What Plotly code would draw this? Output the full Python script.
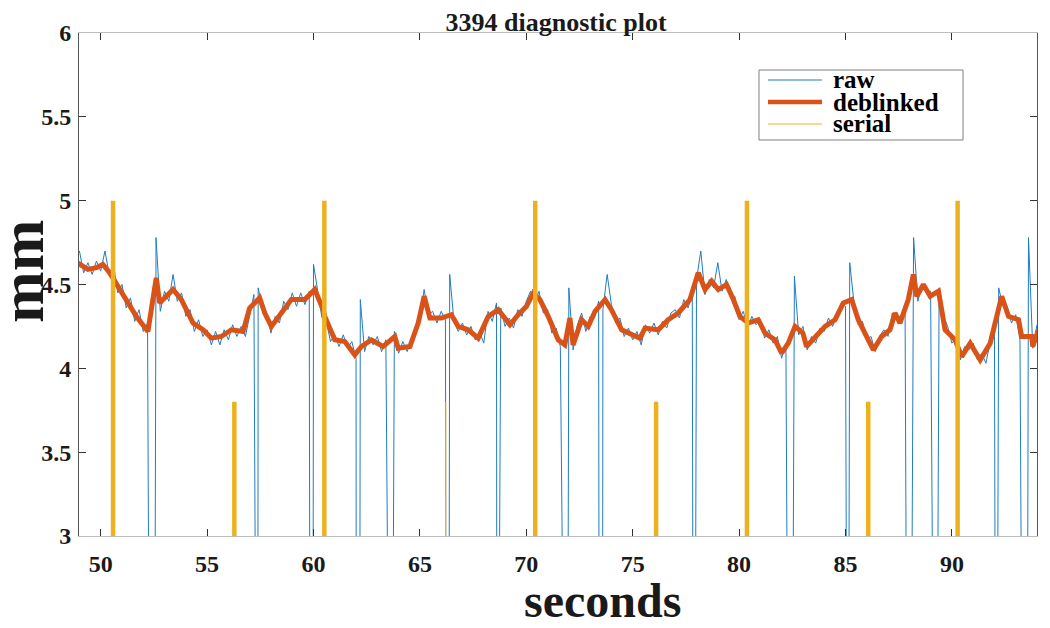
import plotly.graph_objects as go

# ---- values ----
# deblinked pupil trace (seconds, mm)
deblinked_t = [48.9, 49.4, 49.8, 50.1, 50.42, 50.81, 51.28, 51.67, 52.22, 52.46, 52.61, 52.77,
               53.1, 53.4, 53.79, 54.34, 54.81, 55.2, 55.67, 56.14, 56.69, 57.0, 57.47, 57.71,
               58.02, 58.49, 58.96, 59.59, 60.06, 60.45, 60.53, 61.0, 61.47, 61.94, 62.25, 62.72,
               63.27, 63.82, 63.98, 64.53, 64.92, 65.2, 65.47, 66.01, 66.48, 66.8, 67.27, 67.74,
               68.21, 68.68, 69.23, 69.62, 70.01, 70.33, 70.64, 71.03, 71.5, 71.81, 72.05, 72.2,
               72.6, 72.91, 73.23, 73.7, 74.0, 74.48, 74.95, 75.34, 75.58, 76.2, 76.67, 77.14,
               77.69, 78.08, 78.4, 78.71, 79.02, 79.41, 79.73, 80.04, 80.43, 80.9, 81.22, 81.69,
               82.0, 82.31, 82.63, 83.0, 83.17, 83.57, 84.04, 84.51, 84.9, 85.29, 85.6, 86.07,
               86.31, 86.7, 87.09, 87.33, 87.56, 87.95, 88.19, 88.35, 88.66, 88.98, 89.37, 89.68,
               90.15, 90.46, 90.86, 91.33, 91.8, 92.34, 92.66, 93.13, 93.28, 93.75, 93.8, 94.07]
deblinked_mm = [4.63, 4.59, 4.60, 4.62, 4.57, 4.49, 4.40, 4.31, 4.22, 4.41, 4.54, 4.39,
                4.43, 4.47, 4.41, 4.27, 4.23, 4.18, 4.19, 4.23, 4.22, 4.36, 4.42, 4.33,
                4.25, 4.33, 4.41, 4.41, 4.47, 4.35, 4.31, 4.17, 4.16, 4.08, 4.13, 4.17,
                4.13, 4.19, 4.12, 4.13, 4.27, 4.43, 4.30, 4.30, 4.32, 4.25, 4.23, 4.18,
                4.31, 4.35, 4.26, 4.32, 4.37, 4.45, 4.41, 4.31, 4.17, 4.14, 4.30, 4.14,
                4.29, 4.25, 4.34, 4.41, 4.35, 4.23, 4.20, 4.18, 4.24, 4.23, 4.29, 4.33,
                4.41, 4.57, 4.47, 4.52, 4.47, 4.50, 4.41, 4.31, 4.27, 4.29, 4.21, 4.17,
                4.09, 4.15, 4.25, 4.21, 4.13, 4.19, 4.25, 4.29, 4.39, 4.41, 4.29, 4.17,
                4.11, 4.19, 4.23, 4.33, 4.27, 4.41, 4.56, 4.43, 4.50, 4.43, 4.46, 4.23,
                4.17, 4.07, 4.15, 4.05, 4.15, 4.43, 4.31, 4.29, 4.19, 4.19, 4.13, 4.23]

# raw trace, one sample every 0.2 s from 49.0 s
raw_start, raw_step = 49.0, 0.2
raw_mm = [4.70, 4.57, 4.63, 4.56, 4.64, 4.58, 4.70, 4.56, 4.62, 4.45,
          4.50, 4.36, 4.42, 4.28, 4.35, 4.22, 4.27, 4.18, 4.78, 4.34,
          4.46, 4.40, 4.56, 4.40, 4.45, 4.31, 4.35, 4.22, 4.29, 4.19,
          4.23, 4.14, 4.22, 4.14, 4.23, 4.17, 4.26, 4.19, 4.25, 4.19,
          4.32, 4.44, 4.48, 4.36, 4.33, 4.21, 4.31, 4.27, 4.40, 4.35,
          4.45, 4.37, 4.45, 4.38, 4.46, 4.62, 4.45, 4.30, 4.28, 4.16,
          4.20, 4.13, 4.20, 4.12, 4.16, 4.06, 4.41, 4.10, 4.19, 4.14,
          4.19, 4.10, 4.17, 4.56, 4.22, 4.09, 4.16, 4.10, 4.17, 4.25,
          4.29, 4.47, 4.32, 4.34, 4.27, 4.34, 4.29, 4.56, 4.28, 4.22,
          4.27, 4.20, 4.25, 4.17, 4.22, 4.15, 4.34, 4.28, 4.39, 4.36,
          4.25, 4.30, 4.24, 4.35, 4.31, 4.40, 4.46, 4.40, 4.46, 4.33,
          4.35, 4.21, 4.24, 4.13, 4.18, 4.48, 4.11, 4.26, 4.33, 4.22,
          4.31, 4.30, 4.40, 4.35, 4.56, 4.38, 4.27, 4.30, 4.19, 4.24,
          4.17, 4.22, 4.14, 4.26, 4.21, 4.27, 4.20, 4.28, 4.24, 4.33,
          4.35, 4.30, 4.41, 4.36, 4.44, 4.53, 4.70, 4.44, 4.53, 4.48,
          4.63, 4.46, 4.53, 4.42, 4.43, 4.29, 4.34, 4.24, 4.31, 4.26,
          4.29, 4.18, 4.23, 4.15, 4.19, 4.06, 4.15, 4.14, 4.55, 4.20,
          4.25, 4.11, 4.19, 4.15, 4.24, 4.22, 4.30, 4.25, 4.33, 4.39,
          4.37, 4.63, 4.39, 4.26, 4.28, 4.17, 4.19, 4.10, 4.19, 4.23,
          4.19, 4.33, 4.29, 4.31, 4.38, 4.41, 4.78, 4.40, 4.50, 4.45,
          4.46, 4.40, 4.48, 4.31, 4.25, 4.15, 4.18, 4.05, 4.13, 4.11,
          4.15, 4.05, 4.09, 4.03, 4.16, 4.27, 4.48, 4.37, 4.37, 4.27,
          4.32, 4.17, 4.22, 4.78, 4.12, 4.26]

# blinks in the raw trace (signal drops to 0 mm)
blink_start = [52.35, 57.37, 59.86, 62.02, 63.49, 66.27, 68.61, 71.78, 73.44, 77.87,
               82.37, 85.09, 87.94, 89.12, 92.08, 93.38]
blink_end = [52.50, 57.39, 59.96, 62.15, 63.65, 66.34, 68.63, 71.91, 73.57, 77.89,
             82.45, 85.11, 88.02, 89.24, 92.10, 93.51]

# serial markers (time, height in mm)
serial_t = [50.58, 56.28, 60.51, 70.42, 76.1, 80.37, 86.07, 90.27]
serial_top = [5.0, 3.8, 5.0, 5.0, 3.8, 5.0, 3.8, 5.0]
serial_faint_t = [66.23]
serial_faint_top = [3.8]

BLUE = '#1f7cc4'
ORANGE = '#D95319'
YELLOW = '#EDB120'
INK = '#1a1a1a'
FONT = 'Liberation Serif'

# merge raw samples with blink drops
raw_pts = []
for i, v in enumerate(raw_mm):
    t = round(raw_start + raw_step * i, 2)
    if any(a <= t <= b for a, b in zip(blink_start, blink_end)):
        continue
    raw_pts.append((t, v))
for a, b in zip(blink_start, blink_end):
    raw_pts += [(a, 0.0), (b, 0.0)]
raw_pts.sort()

sx, sy = [], []
for t, top in zip(serial_t, serial_top):
    sx += [t, t, None]
    sy += [2.9, top, None]
fx, fy = [], []
for t, top in zip(serial_faint_t, serial_faint_top):
    fx += [t, t, None]
    fy += [2.9, top, None]

fig = go.Figure()
fig.add_trace(go.Scatter(x=[p[0] for p in raw_pts], y=[p[1] for p in raw_pts],
                         mode='lines', line=dict(color=BLUE, width=1), name='raw'))
fig.add_trace(go.Scatter(x=deblinked_t, y=deblinked_mm, mode='lines',
                         line=dict(color=ORANGE, width=5), name='deblinked'))
fig.add_trace(go.Scatter(x=fx, y=fy, mode='lines', line=dict(color='#f3d58a', width=1),
                         name='serial faint'))
fig.add_trace(go.Scatter(x=sx, y=sy, mode='lines', line=dict(color=YELLOW, width=4.5),
                         name='serial'))

# legend drawn by hand (MATLAB style box)
fig.add_shape(type='rect', xref='paper', yref='paper', x0=0.7098, x1=0.9228, y0=0.7873, y1=0.9264,
              line=dict(color='#7f7f7f', width=1), fillcolor='white', layer='above')
leg = [('raw', BLUE, 1.2, 0.9066), ('deblinked', ORANGE, 4.5, 0.8628), ('serial', YELLOW, 1.2, 0.8191)]
for label, col, w, yy in leg:
    fig.add_shape(type='line', xref='paper', yref='paper', x0=0.7192, x1=0.7756, y0=yy, y1=yy,
                  line=dict(color=col, width=w), layer='above')
    fig.add_annotation(xref='paper', yref='paper', x=0.785, y=yy, text='<b>%s</b>' % label,
                       showarrow=False, xanchor='left', yanchor='middle',
                       font=dict(family=FONT, size=25, color='black'))

# axis titles
fig.add_annotation(xref='paper', yref='paper', x=0.546, y=0, yshift=-64, text='<b>seconds</b>',
                   showarrow=False, xanchor='center', yanchor='middle',
                   font=dict(family=FONT, size=48, color=INK))
fig.add_annotation(xref='paper', yref='paper', x=0, y=0.525, xshift=-57, text='<b>mm</b>',
                   textangle=-90, showarrow=False, xanchor='center', yanchor='middle',
                   font=dict(family=FONT, size=62, color=INK))

fig.update_layout(
    width=1042, height=620,
    margin=dict(l=71, r=13, t=25, b=92, autoexpand=False),
    paper_bgcolor='white', plot_bgcolor='white',
    showlegend=False,
    title=dict(text='<b>3394 diagnostic plot</b>', x=0.526, xanchor='center',
               y=0.977, yanchor='middle', font=dict(family=FONT, size=26, color=INK)),
    font=dict(family=FONT, color=INK),
)
xtv = [50, 55, 60, 65, 70, 75, 80, 85, 90]
fig.update_xaxes(
    range=[48.98, 94.0], tickvals=xtv, ticktext=['<b>%d</b>' % v for v in xtv],
    ticks='inside', ticklen=7, tickcolor='#333333', mirror='allticks', automargin=False,
    showline=True, linecolor='#bdbdbd', linewidth=1, showgrid=False, zeroline=False,
    tickfont=dict(family=FONT, size=24, color=INK), ticklabelstandoff=6,
)
ytv = [3, 3.5, 4, 4.5, 5, 5.5, 6]
fig.update_yaxes(
    range=[3, 6], tickvals=ytv, ticktext=['<b>%g</b>' % v for v in ytv],
    ticks='inside', ticklen=7, tickcolor='#333333', mirror='allticks', automargin=False,
    showline=True, linecolor='#555555', linewidth=1, showgrid=False, zeroline=False,
    tickfont=dict(family=FONT, size=24, color=INK), ticklabelstandoff=2,
)

fig.write_html('out.html')
